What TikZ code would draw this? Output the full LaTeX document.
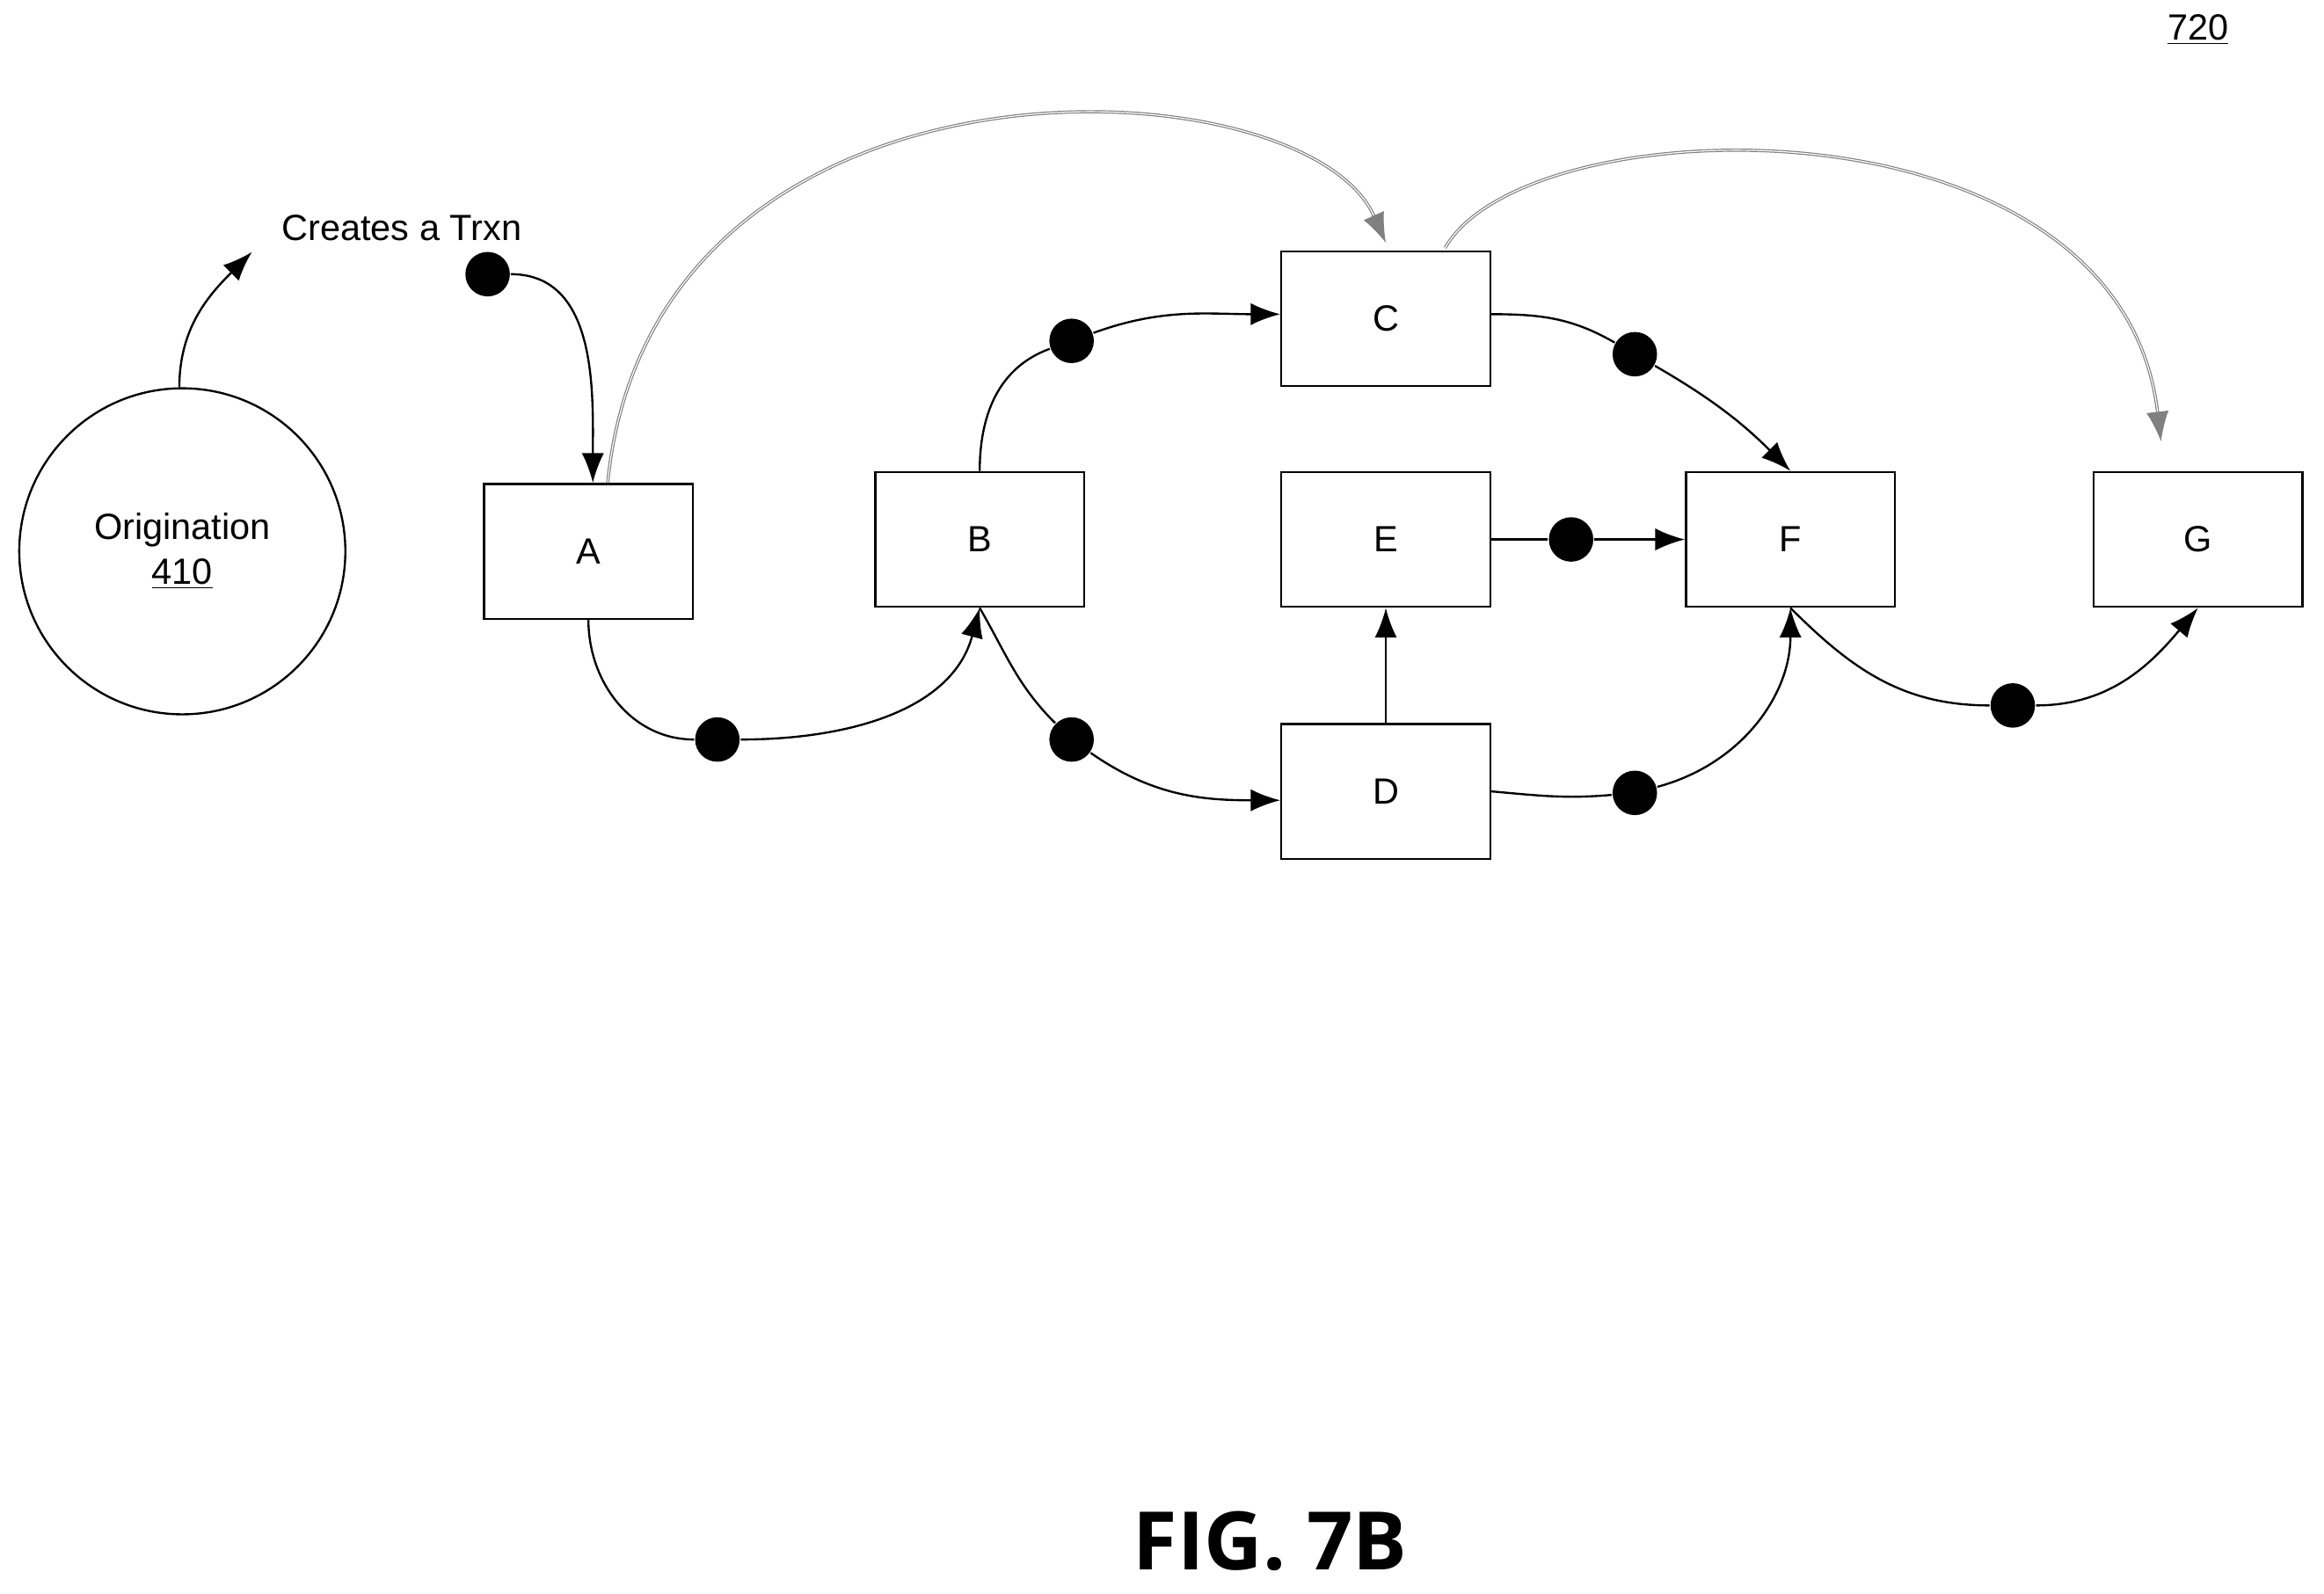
\documentclass[tikz,border=0pt]{standalone}
\usepackage{fontspec}
\setmainfont{Liberation Sans}
\newfontfamily\figfont{Open Sans}
\usetikzlibrary{arrows.meta}
\begin{document}
\begin{tikzpicture}[x=0.2mm,y=0.2mm,>={Latex[length=4mm,width=3mm]},thick,
  font=\fontsize{14}{17}\selectfont,
  box/.style={draw,minimum width=28.2mm,minimum height=18.2mm,inner sep=0pt},
  dot/.style={fill,circle,minimum size=6mm,inner sep=0pt},
  long/.style={gray,double=white,double distance=0.4pt,thin}]
\useasboundingbox (0,0) rectangle (1568,-1075);

\node[draw,circle,minimum size=44mm] (orig) at (123,-372) {};
\node[align=center] at (123,-372) {Origination\\\underline{410}};
\node (trxn) at (271,-154) {Creates a Trxn};
\node at (1483,-20) {\underline{720}};
\node[font=\figfont\bfseries\fontsize{31}{36}\selectfont] at (857,-1040) {FIG. 7B};

% boxes
\node[box] (A) at (397,-372) {A};
\node[box] (B) at (661,-364) {B};
\node[box] (C) at (935,-215) {C};
\node[box] (E) at (935,-364) {E};
\node[box] (D) at (935,-534) {D};
\node[box] (F) at (1208,-364) {F};
\node[box] (G) at (1483,-364) {G};

% dots
\node[dot] (d0) at (329,-185) {};
\node[dot] (d1) at (484,-499) {};
\node[dot] (d2) at (723,-230) {};
\node[dot] (d3) at (723,-499) {};
\node[dot] (d4) at (1103,-239) {};
\node[dot] (d5) at (1060,-364) {};
\node[dot] (d6) at (1103,-535) {};
\node[dot] (d7) at (1358,-476) {};
\coordinate (t) at (170,-170);

% connectors
\draw[->] (orig.north) ++(-2,0) to[out=90,in=-135] (t);
\draw[->] (d0) to[out=0,in=90] ([xshift=0.6mm]A.north);
\draw[long,->] ([xshift=2.6mm]A.north) .. controls (440,-20) and (880,-40) .. ([yshift=1mm]C.north);
\draw[long,->] ([xshift=8mm,yshift=0.3mm]C.north) .. controls (1030,-70) and (1430,-60) .. ([xshift=-5mm,yshift=4mm]G.north);
\draw (A.south) to[out=-90,in=180] (d1);
\draw[->] (d1) to[out=0,in=-105] (B.south);
\draw (B.north) to[out=90,in=200] (d2);
\draw[->] (d2) to[out=20,in=180] ([yshift=0.6mm]C.west);
\draw (B.south) to[out=-60,in=135] (d3);
\draw[->] (d3) to[out=-35,in=180] ([yshift=-1.2mm]D.west);
\draw (C.east) ++(0,0.6mm) to[out=0,in=150] (d4);
\draw[->] (d4) to[out=-30,in=135] (F.north);
\draw (E) -- (d5);
\draw[->] (d5) -- (F);
\draw[->] (D) -- (E);
\draw (D.east) to[out=-5,in=185] (d6);
\draw[->] (d6) to[out=15,in=-90] (F.south);
\draw (F.south) to[out=-45,in=180] (d7);
\draw[->] (d7) to[out=0,in=-130] (G.south);
\end{tikzpicture}
\end{document}
